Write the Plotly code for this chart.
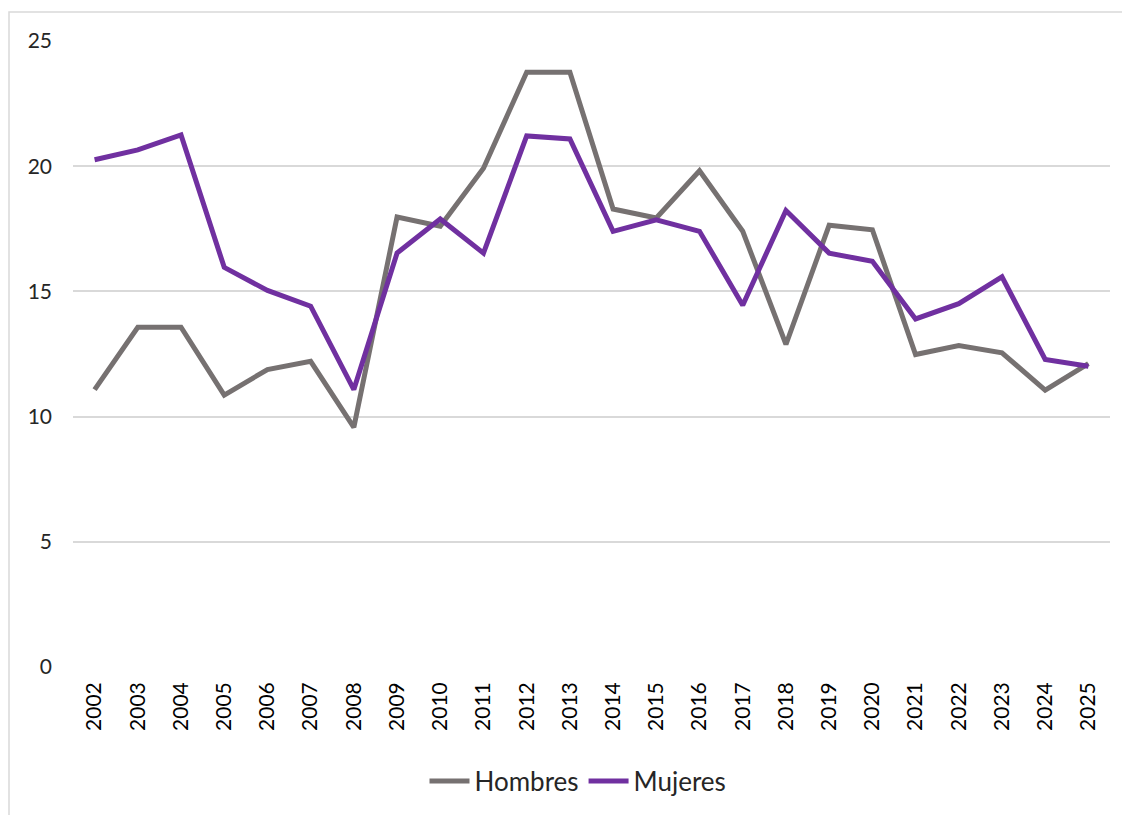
import plotly.graph_objects as go

years = [str(y) for y in range(2002, 2026)]
hombres = [11.08, 13.57, 13.57, 10.86, 11.88, 12.21, 9.57, 17.97, 17.6, 19.92, 23.75, 23.75,
           18.29, 17.93, 19.82, 17.4, 12.88, 17.64, 17.46, 12.48, 12.84, 12.55, 11.06, 12.12]
mujeres = [20.26, 20.65, 21.25, 15.96, 15.04, 14.41, 11.08, 16.53, 17.89, 16.53, 21.21, 21.09,
           17.4, 17.86, 17.4, 14.45, 18.23, 16.53, 16.2, 13.9, 14.51, 15.58, 12.28, 12.01]
y_ticks = [0, 5, 10, 15, 20, 25]

FONT = "Lato, Carlito, 'Open Sans', sans-serif"

OFF = 8  # page body margin
W, H = 1122, 807
L, R, T, B = 73 - OFF, 1130 - 1110, 41 - OFF, 815 - 668
pw, ph = W - L - R, H - T - B

def px_x(x):
    return (x - OFF - L) / pw

def px_y(y):
    return (T + ph - (y - OFF)) / ph

fig = go.Figure()
fig.add_trace(go.Scatter(x=years, y=hombres, mode="lines", name="Hombres",
                         line=dict(color="#767171", width=5)))
fig.add_trace(go.Scatter(x=years, y=mujeres, mode="lines", name="Mujeres",
                         line=dict(color="#7030A0", width=5)))

fig.update_layout(
    width=W, height=H,
    margin=dict(l=L, r=R, t=T, b=B),
    paper_bgcolor="white", plot_bgcolor="white",
    font=dict(family=FONT, size=21, color="#262626"),
    showlegend=True,
    legend=dict(orientation="h", x=px_x(578), xanchor="center", y=px_y(781), yanchor="middle",
                font=dict(size=26, color="#262626"), itemwidth=40, bgcolor="rgba(0,0,0,0)"),
    hovermode=False,
    shapes=[dict(type="rect", xref="paper", yref="paper",
                 x0=px_x(9), x1=px_x(1200), y0=px_y(900), y1=px_y(12),
                 line=dict(color="#d9d9d9", width=1.5), fillcolor="rgba(0,0,0,0)", layer="below")],
)
fig.update_xaxes(type="category", range=[-0.5, len(years) - 0.5], showgrid=False, showline=False,
                 zeroline=False, tickangle=-90, ticks="", ticklabelstandoff=10,
                 tickfont=dict(size=21, color="#000000"))
fig.update_yaxes(range=[0, 25], tickvals=y_ticks, showgrid=True, gridcolor="#d9d9d9", gridwidth=1.5,
                 zeroline=False, showline=False, ticks="", ticklabelstandoff=20,
                 tickfont=dict(size=21, color="#262626"))

fig.write_html("out.html")
